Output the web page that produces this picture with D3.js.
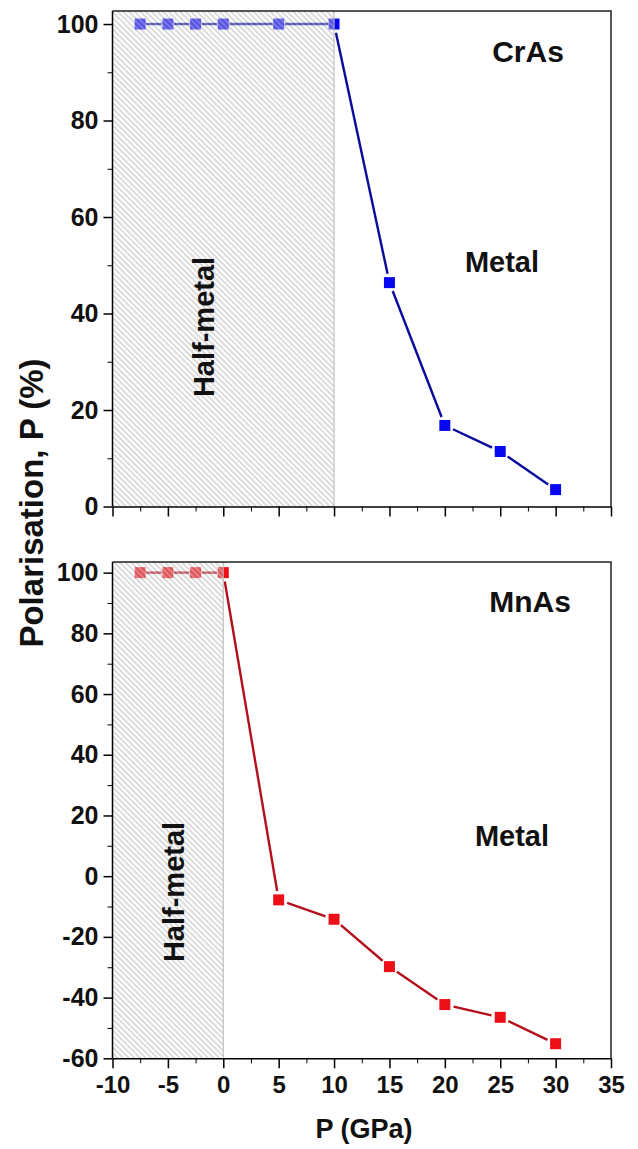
<!DOCTYPE html>
<html>
<head>
<meta charset="utf-8">
<script src="https://cdn.jsdelivr.net/npm/d3@7.9.0/dist/d3.min.js"></script>
<style>
  html, body { margin: 0; padding: 0; background: #fff; }
  svg { display: block; font-family: "Liberation Sans", Arial, sans-serif; font-weight: bold; }
</style>
</head>
<body>
<div id="chart"></div>
<script>
// pressure values (GPa), shared by both compounds
const pressure = [-7.5, -5, -2.5, 0, 5, 10, 15, 20, 25, 30];
const crasPolarisation = [100, 100, 100, 100, 100, 100, 46.4, 16.8, 11.4, 3.5];
const mnasPolarisation = [100, 100, 100, 100, -7.8, -14.2, -29.8, -42.3, -46.5, -55.2];

const xTicks = [-10, -5, 0, 5, 10, 15, 20, 25, 30, 35];
const crasYTicks = [0, 20, 40, 60, 80, 100];
const mnasYTicks = [-60, -40, -20, 0, 20, 40, 60, 80, 100];

const width = 638;
const height = 1149;

const svg = d3.select('#chart')
  .append('svg')
  .attr('width', width)
  .attr('height', height);

// hatch pattern for half-metal region ("\\\" direction)
const defs = svg.append('defs');
const pat = defs.append('pattern')
  .attr('id', 'hatch')
  .attr('patternUnits', 'userSpaceOnUse')
  .attr('width', 4)
  .attr('height', 5)
  .attr('patternTransform', 'rotate(-45)');
pat.append('line')
  .attr('x1', 1).attr('y1', 0).attr('x2', 1).attr('y2', 5)
  .attr('stroke', '#fff').attr('stroke-opacity', 0.75).attr('stroke-width', 1.2);
pat.append('line')
  .attr('x1', 3).attr('y1', 0).attr('x2', 3).attr('y2', 5)
  .attr('stroke', '#b0b0b0').attr('stroke-width', 0.9);

const x = d3.scaleLinear().domain([-10, 35]).range([112.5, 611]);

const panels = [
  {
    name: 'CrAs', values: crasPolarisation, halfMax: 10, ticks: crasYTicks,
    y: d3.scaleLinear().domain([0, 102.7]).range([506.5, 11]),
    marker: '#0808f0', line: '#0a0a9c', showXLabels: false,
    nameX: 528, nameY: 62, metalX: 502, metalY: 272, halfX: 214, halfY: 327
  },
  {
    name: 'MnAs', values: mnasPolarisation, halfMax: 0, ticks: mnasYTicks,
    y: d3.scaleLinear().domain([-60, 103.5]).range([1058.3, 562]),
    marker: '#ec1018', line: '#b3101c', showXLabels: true,
    nameX: 530, nameY: 612, metalX: 512, metalY: 846, halfX: 184, halfY: 892
  }
];

const font = '"Liberation Sans", Arial, sans-serif';

panels.forEach(p => {
  const g = svg.append('g');
  const y = p.y;
  const [yb, yt] = y.range();
  const pts = pressure.map((d, i) => ({ x: d, v: p.values[i] }));

  // connecting lines, stopped short of the markers
  const gap = 9;
  const segs = d3.pairs(pts).map(([a, b]) => {
    const x1 = x(a.x), y1 = y(a.v), x2 = x(b.x), y2 = y(b.v);
    const len = Math.hypot(x2 - x1, y2 - y1);
    const ux = (x2 - x1) / len, uy = (y2 - y1) / len;
    const g1 = a.x < p.halfMax ? 6 : gap;
    return { x1: x1 + ux * g1, y1: y1 + uy * g1, x2: x2 - ux * g1, y2: y2 - uy * g1 };
  });
  g.append('g').selectAll('line')
    .data(segs)
    .join('line')
    .attr('x1', d => d.x1).attr('y1', d => d.y1)
    .attr('x2', d => d.x2).attr('y2', d => d.y2)
    .attr('stroke', p.line)
    .attr('stroke-width', 2.4);

  g.append('g').selectAll('rect')
    .data(pts)
    .join('rect')
    .attr('x', d => x(d.x) - 5.5)
    .attr('y', d => y(d.v) - 5.5)
    .attr('width', 11)
    .attr('height', 11)
    .attr('fill', p.marker);

  // half-metal hatched region drawn over the data
  g.append('rect')
    .attr('x', x(-10))
    .attr('y', yt)
    .attr('width', x(p.halfMax) - x(-10))
    .attr('height', yb - yt)
    .attr('fill', 'url(#hatch)');
  g.append('line')
    .attr('x1', x(p.halfMax)).attr('x2', x(p.halfMax))
    .attr('y1', yt).attr('y2', yb)
    .attr('stroke', '#b8b8b8').attr('stroke-width', 1);

  // frame (top and right)
  g.append('path')
    .attr('d', `M${x(-10)},${yt}H${x(35)}V${yb}`)
    .attr('fill', 'none')
    .attr('stroke', '#222')
    .attr('stroke-width', 1.5);

  // y axis
  const yAxis = g.append('g')
    .attr('transform', `translate(${x(-10)},0)`)
    .call(d3.axisLeft(y).tickValues(p.ticks).tickSize(9).tickPadding(5).tickSizeOuter(0)
      .tickFormat(d => String(d)));
  g.append('g')
    .attr('transform', `translate(${x(-10)},0)`)
    .call(d3.axisLeft(y).tickValues(p.ticks.slice(0, -1).map(t => t + 10)).tickSize(5).tickFormat('').tickSizeOuter(0))
    .call(a => a.select('.domain').remove());
  yAxis.select('.domain').attr('stroke-width', 1.5).attr('d', `M0,${yb}V${yt}`);
  yAxis.selectAll('.tick line').attr('stroke-width', 1.5);
  yAxis.selectAll('text')
    .attr('font-size', 25)
    .attr('font-family', font)
    .attr('font-weight', 'bold')
    .attr('fill', '#111');

  // x axis
  const xAxis = g.append('g')
    .attr('transform', `translate(0,${yb})`)
    .call(d3.axisBottom(x).tickValues(xTicks).tickSize(10).tickPadding(8).tickSizeOuter(0)
      .tickFormat(p.showXLabels ? (d => String(d)) : ''));
  g.append('g')
    .attr('transform', `translate(0,${yb})`)
    .call(d3.axisBottom(x).tickValues(xTicks.slice(0, -1).map(t => t + 2.5)).tickSize(5).tickFormat('').tickSizeOuter(0))
    .call(a => a.select('.domain').remove());
  xAxis.select('.domain').attr('stroke-width', 1.5);
  xAxis.selectAll('.tick line').attr('stroke-width', 1.5);
  xAxis.selectAll('text')
    .attr('font-size', 24)
    .attr('font-family', font)
    .attr('font-weight', 'bold')
    .attr('fill', '#111');

  // annotations
  g.append('text')
    .attr('x', p.nameX).attr('y', p.nameY)
    .attr('text-anchor', 'middle')
    .attr('font-size', 30)
    .attr('fill', '#111')
    .text(p.name);
  g.append('text')
    .attr('x', p.metalX).attr('y', p.metalY)
    .attr('text-anchor', 'middle')
    .attr('font-size', 29)
    .attr('fill', '#111')
    .text('Metal');
  g.append('text')
    .attr('transform', `translate(${p.halfX},${p.halfY}) rotate(-90)`)
    .attr('text-anchor', 'middle')
    .attr('font-size', 29)
    .attr('fill', '#111')
    .text('Half-metal');
});

// axis titles
svg.append('text')
  .attr('transform', 'translate(43,503) rotate(-90)')
  .attr('text-anchor', 'middle')
  .attr('font-size', 33)
  .attr('fill', '#111')
  .text('Polarisation, P (%)');

svg.append('text')
  .attr('x', 364).attr('y', 1138)
  .attr('text-anchor', 'middle')
  .attr('font-size', 27)
  .attr('fill', '#111')
  .text('P (GPa)');
</script>
</body>
</html>
